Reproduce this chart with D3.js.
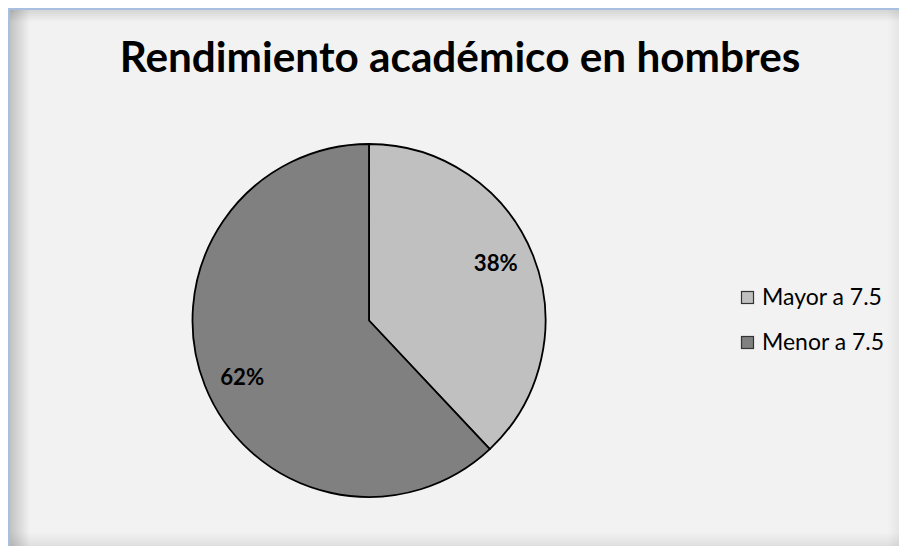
<!DOCTYPE html>
<html>
<head>
<meta charset="utf-8">
<script src="https://cdn.jsdelivr.net/npm/d3@7"></script>
<style>
  html, body { margin: 0; padding: 0; background: #ffffff; }
  svg { display: block; }
</style>
</head>
<body>
<svg id="chart" width="899" height="546"></svg>
<script>
// Chart data
const title = "Rendimiento académico en hombres";
const categories = ["Mayor a 7.5", "Menor a 7.5"];
const values = [38, 62];
const colors = ["#c0c0c0", "#808080"];

const W = 899, H = 546;
const svg = d3.select("#chart");
const defs = svg.append("defs");

// Panel background
svg.append("rect").attr("x", 0).attr("y", 0).attr("width", W).attr("height", H).attr("fill", "#ffffff");
svg.append("rect")
  .attr("x", 9).attr("y", 9).attr("width", W + 20).attr("height", H + 20)
  .attr("fill", "#f2f2f2")
  .attr("stroke", "#a7bfe0").attr("stroke-width", 2);

// Soft inner shadow along the panel edges
function edgeShadow(id, x1, y1, x2, y2, o) {
  const g = defs.append("linearGradient").attr("id", id)
    .attr("x1", x1).attr("y1", y1).attr("x2", x2).attr("y2", y2);
  g.append("stop").attr("offset", "0%").attr("stop-color", "#000").attr("stop-opacity", o);
  g.append("stop").attr("offset", "100%").attr("stop-color", "#000").attr("stop-opacity", 0);
}
edgeShadow("shL", "0", "0", "1", "0", 0.2);
edgeShadow("shT", "0", "0", "0", "1", 0.12);
edgeShadow("shB", "0", "1", "0", "0", 0.08);
edgeShadow("shR", "1", "0", "0", "0", 0.05);
svg.append("rect").attr("x", 10).attr("y", 10).attr("width", 20).attr("height", H).attr("fill", "url(#shL)");
svg.append("rect").attr("x", 10).attr("y", 10).attr("width", W).attr("height", 12).attr("fill", "url(#shT)");
svg.append("rect").attr("x", 10).attr("y", H - 14).attr("width", W).attr("height", 14).attr("fill", "url(#shB)");
svg.append("rect").attr("x", W - 12).attr("y", 10).attr("width", 12).attr("height", H).attr("fill", "url(#shR)");

// Scale font size so a text element spans a given width
function fitWidth(sel, target) {
  const node = sel.node();
  const size = parseFloat(sel.attr("font-size"));
  const w = node.getComputedTextLength();
  sel.attr("font-size", (size * target / w).toFixed(2));
}

const font = "Lato, 'Open Sans', 'DejaVu Sans', sans-serif";

// Title
const t = svg.append("text")
  .attr("x", 460).attr("y", 72)
  .attr("text-anchor", "middle")
  .attr("font-family", font).attr("font-weight", 700).attr("font-size", 40)
  .attr("fill", "#000").text(title);
fitWidth(t, 681);

// Pie
const cx = 369, cy = 320.5, R = 176.5;
const pie = d3.pie().sort(null).value(d => d)(values);
const arc = d3.arc().innerRadius(0).outerRadius(R);
const g = svg.append("g").attr("transform", `translate(${cx},${cy})`);
g.selectAll("path.slice").data(pie).join("path")
  .attr("class", "slice")
  .attr("d", arc)
  .attr("fill", (d, i) => colors[i])
  .attr("stroke", "#000").attr("stroke-width", 1.8).attr("stroke-linejoin", "round");

// Percentage labels inside slices
const total = d3.sum(values);
const labelR = 139, labelTilt = -0.045;
g.selectAll("text.pct").data(pie).join("text")
  .attr("class", "pct")
  .attr("x", d => labelR * Math.sin((d.startAngle + d.endAngle) / 2 + labelTilt))
  .attr("y", d => -labelR * Math.cos((d.startAngle + d.endAngle) / 2 + labelTilt))
  .attr("dy", "0.35em")
  .attr("text-anchor", "middle")
  .attr("font-family", font).attr("font-weight", 700).attr("font-size", 18)
  .attr("fill", "#000")
  .text(d => Math.round(d.data / total * 100) + "%")
  .each(function () { fitWidth(d3.select(this), 44); });

// Legend
const legend = svg.append("g").attr("transform", "translate(741,305)");
const items = legend.selectAll("g").data(categories).join("g")
  .attr("transform", (d, i) => `translate(0,${i * 45})`);
items.append("rect")
  .attr("x", 0.5).attr("y", -13.5).attr("width", 12).attr("height", 12)
  .attr("fill", (d, i) => colors[i])
  .attr("stroke", "#333").attr("stroke-width", 1.2);
items.append("text")
  .attr("x", 21).attr("y", 0)
  .attr("font-family", font).attr("font-size", 20)
  .attr("fill", "#000")
  .text(d => d)
  .each(function (d, i) { fitWidth(d3.select(this), i === 0 ? 120 : 122); });
</script>
</body>
</html>
